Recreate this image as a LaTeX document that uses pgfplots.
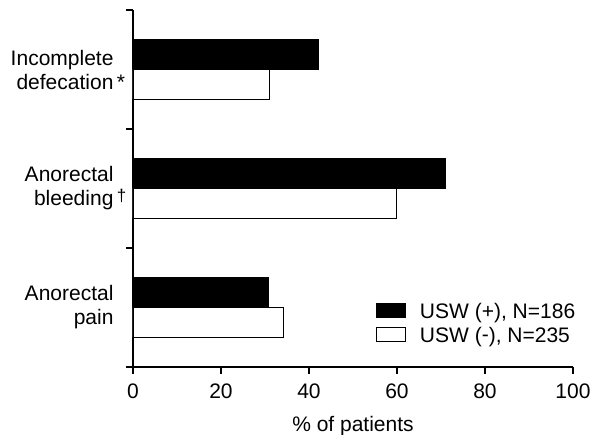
\documentclass[border=0pt]{standalone}
\usepackage{pgfplots}
\pgfplotsset{compat=1.18}
\usepackage{fontspec}
\setmainfont{Liberation Sans}
\begin{document}
\begin{tikzpicture}
\useasboundingbox (-133pt,-68pt) rectangle (459pt,367pt);
\begin{axis}[
  scale only axis,
  width=440pt, height=357pt,
  xmin=0, xmax=100,
  ymin=-0.5, ymax=2.5,
  axis x line*=bottom, axis y line*=left,
  axis line style={line width=1.4pt},
  every tick/.style={black, line width=1.4pt},
  tick align=outside,
  major tick length=7pt,
  xtick={0,20,40,60,80,100},
  ytick={-0.5,0.5,1.5,2.5},
  yticklabels={},
  extra y ticks={0,1,2},
  extra y tick labels={{Anorectal\\pain}, {Anorectal\\bleeding\rlap{\,{\fontsize{17}{17}\selectfont\raisebox{4pt}{†}}}}, {Incomplete\\defecation\rlap{\,*}}},
  extra y tick style={major tick length=0pt, yticklabel style={align=right, xshift=-16pt, yshift=0pt}},
  /pgf/number format/assume math mode=true,
  ticklabel style={font=\fontsize{21}{24}\selectfont},
  xticklabel style={yshift=-6pt},
  xlabel={\% of patients},
  xlabel style={font=\fontsize{21}{24}\selectfont, yshift=-11pt},
  xbar,
  bar width=0.25,
  legend style={draw=none, fill=none, font=\fontsize{21}{24}\selectfont,
    at={(rel axis cs:0.545,0.19)}, anchor=north west, row sep=3pt, column sep=12pt},
  legend cell align=left,
  legend image code/.code={\draw[#1, line width=1pt] (0pt,-6pt) rectangle (29pt,8pt);},
]
\addplot[fill=black, draw=black, line width=0.8pt, bar shift=0.125] coordinates {(30.7,0) (70.9,1) (42.2,2)};
\addplot[fill=white, draw=black, line width=0.8pt, bar shift=-0.125] coordinates {(34.2,0) (59.9,1) (30.9,2)};
\legend{{USW (+), N=186}, {USW (\raisebox{1pt}{-}), N=235}}
\end{axis}
\end{tikzpicture}
\end{document}
